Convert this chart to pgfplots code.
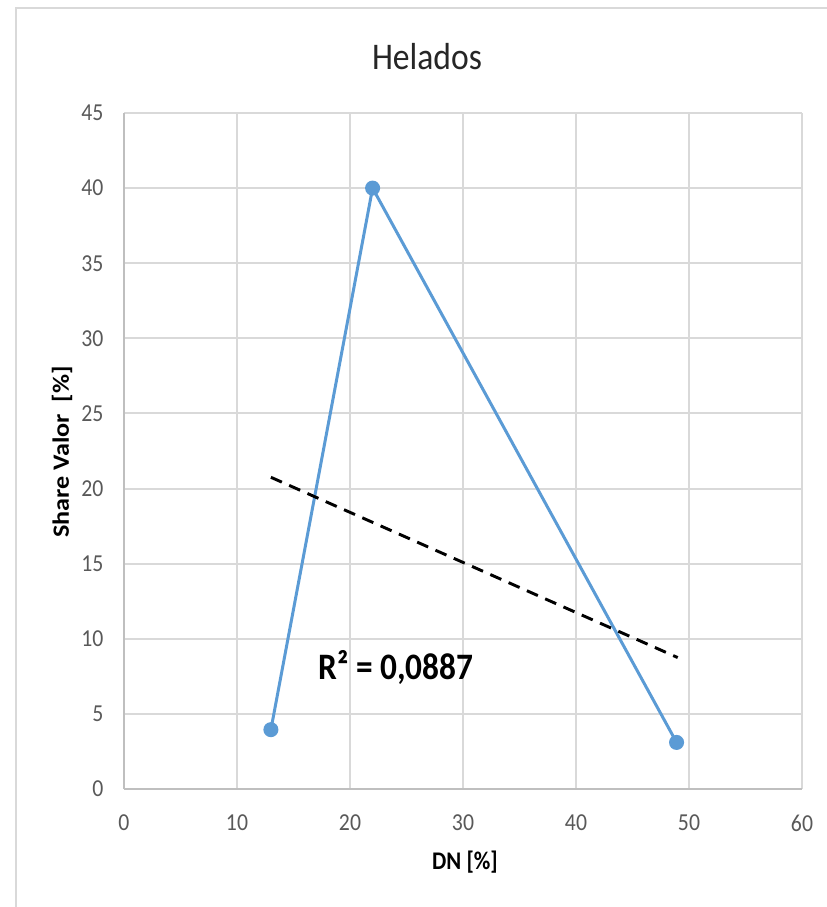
\documentclass[border=0pt]{standalone}
\usepackage{pgfplots}
\pgfplotsset{compat=1.18}
\usepackage{fontspec}
\setmainfont{Carlito}
\definecolor{gridc}{HTML}{D9D9D9}
\definecolor{axc}{HTML}{BFBFBF}
\definecolor{tickc}{HTML}{595959}
\definecolor{serc}{HTML}{5B9BD5}
\begin{document}
\begin{tikzpicture}[x=0.75pt,y=0.75pt]
\useasboundingbox (0,0) rectangle (827,907);
\draw[gridc,line width=1.5pt] (16,0) -- (16,899) -- (827,899);
\begin{axis}[
  at={(93pt,88.5pt)}, anchor=origin,
  scale only axis, width=508.5pt, height=507pt,
  xmin=0, xmax=60, ymin=0, ymax=45,
  xtick={0,10,...,60}, ytick={0,5,...,45},
  grid=major, major grid style={gridc, line width=1.5pt},
  axis lines*=left, axis line style={axc, line width=1.5pt},
  major tick length=0pt,
  tick label style={font=\fontsize{16.3}{19}\selectfont, text=tickc, yscale=1.12},
  /pgf/number format/assume math mode=true,
  yticklabel style={anchor=east, xshift=-12pt},
  xticklabel style={anchor=north, yshift=-14pt},
  clip=false,
]
\addplot[serc, line width=2.25pt, mark=*, mark size=4.5pt, mark options={fill=serc, draw=serc}]
  coordinates {(13,3.95) (22,40) (48.9,3.1)};
\addplot[black, line width=2.2pt, dash pattern=on 9pt off 6pt]
  coordinates {(13,20.75) (49,8.75)};
\end{axis}
\node[font=\fontsize{25.2}{30}\selectfont, text=black!85, yscale=1.12] at (427,850) {Helados};
\node[font=\bfseries\fontsize{17.5}{20}\selectfont, yscale=1.12, rotate=90] at (62,455) {Share Valor\ \ [\%]};
\node[font=\bfseries\fontsize{17}{20}\selectfont, yscale=1.12] at (465,45) {DN [\%]};
\node[font=\bfseries\fontsize{25}{30}\selectfont, anchor=west, yscale=1.12] at (314,239) {R² = 0,0887};
\end{tikzpicture}
\end{document}
